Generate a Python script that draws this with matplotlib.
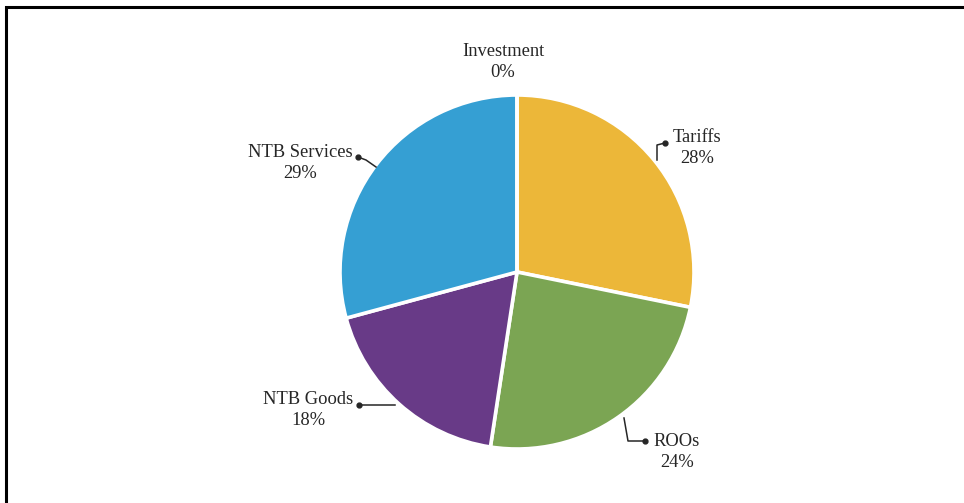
import matplotlib.pyplot as plt
from matplotlib.patches import Rectangle

plt.rcParams['font.family'] = ['Liberation Serif', 'DejaVu Serif']

# share of each chapter, clockwise from the top
categories = ['Tariffs', 'ROOs', 'NTB Goods', 'NTB Services', 'Investment']
shares = [28.2, 24.2, 18.4, 29.2, 0.0]
colors = ['#ECB739', '#7BA553', '#683A87', '#359FD3', '#A5A5A5']

W, H = 964, 503
fig = plt.figure(figsize=(W / 100, H / 100), dpi=100)
ax = fig.add_axes([0, 0, 1, 1])

cx, cy, r = 517, H - 272, 177
ax.pie(shares, colors=colors, startangle=90, counterclock=False,
       center=(cx, cy), radius=r, frame=True,
       wedgeprops=dict(edgecolor='white', linewidth=2.6))
ax.set_xlim(0, W)
ax.set_ylim(0, H)
ax.set_aspect('equal')
ax.axis('off')


def px(x, y):
    return x, H - y


# text position and leader line (pixel coords) for each label
label_pos = {
    'Tariffs': (697, 148),
    'ROOs': (677, 452),
    'NTB Goods': (308, 410),
    'NTB Services': (300, 163),
    'Investment': (503, 62),
}
leaders = {
    'Tariffs': [(665, 143), (657, 145), (657, 160)],
    'ROOs': [(645, 441), (628, 441), (624, 418)],
    'NTB Goods': [(359, 405), (395, 405)],
    'NTB Services': [(358, 157), (366, 160), (376, 167)],
}

for name, val in zip(categories, shares):
    x, y = px(*label_pos[name])
    ax.text(x, y, f'{name}\n{val:.0f}%', ha='center', va='center',
            fontsize=13.3, color='#262626', linespacing=1.3)
    if name in leaders:
        pts = [px(*p) for p in leaders[name]]
        ax.plot([p[0] for p in pts], [p[1] for p in pts], color='#262626', lw=1.1)
        ax.plot(pts[0][0], pts[0][1], 'o', color='#262626', ms=3.5)

# outer frame: left and top edges visible, rest runs off the canvas
fig.add_artist(Rectangle((6 / W, -0.1), 1.1, 1.1 - 7 / H,
                         transform=fig.transFigure, fill=False,
                         edgecolor='black', linewidth=2.2))

fig.savefig('out.png', dpi=100, facecolor='white')
